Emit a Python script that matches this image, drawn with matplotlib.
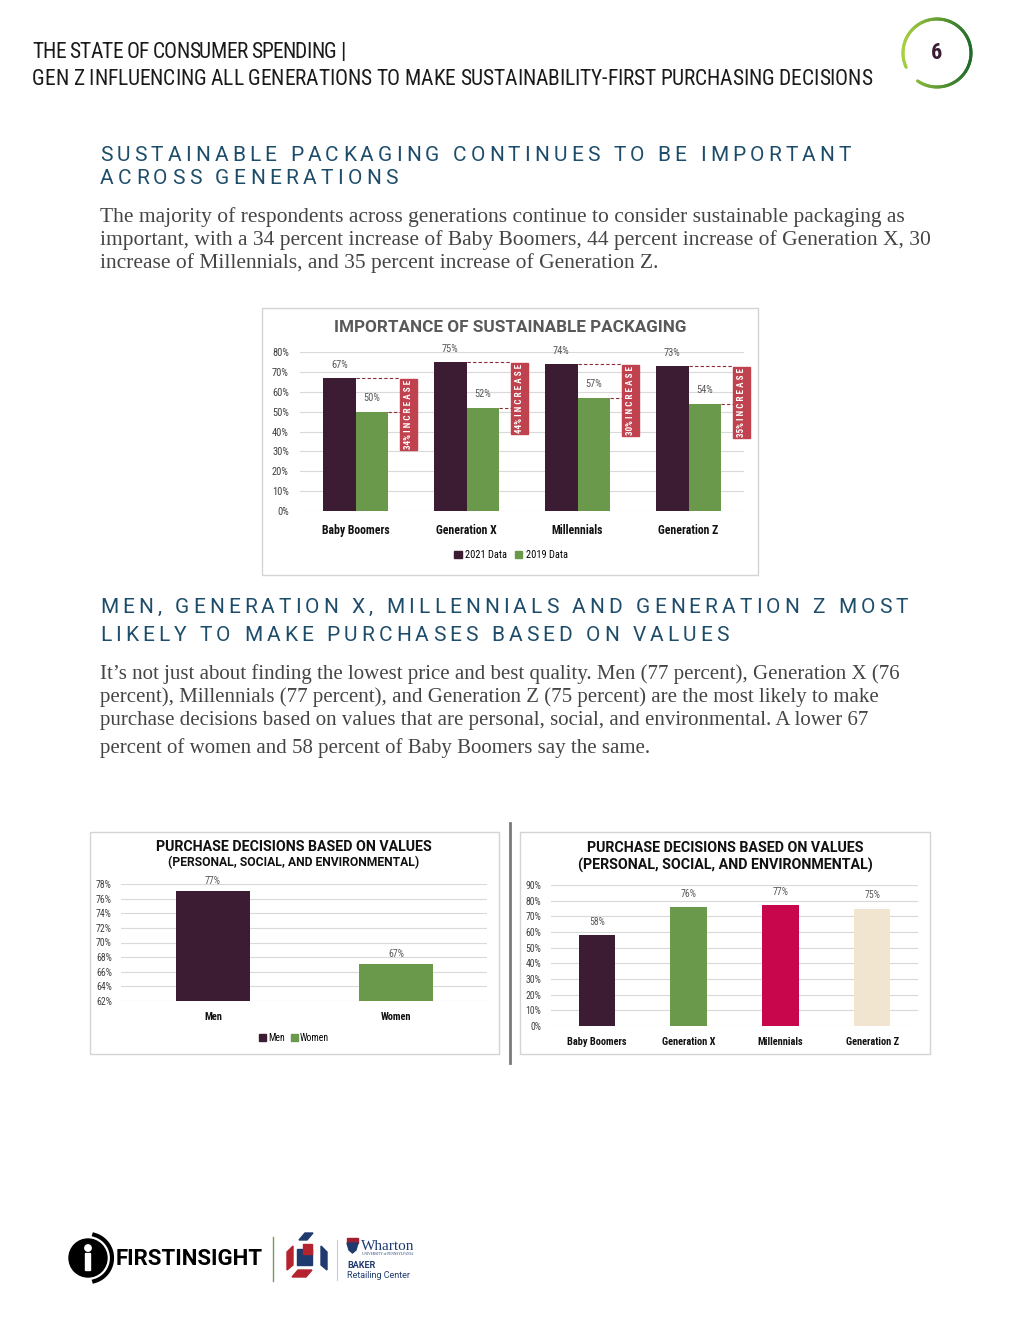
import numpy as np
import matplotlib
matplotlib.use('Agg')
import matplotlib.pyplot as plt
import matplotlib.colors as mcolors
from matplotlib import font_manager
from matplotlib.font_manager import FontProperties
from matplotlib.patches import Rectangle, Patch, Polygon, Circle

# Page size in pixels
W, H = 1020, 1320

# Data
generations = ['Baby Boomers', 'Generation X', 'Millennials', 'Generation Z']
packaging_2021 = [67, 75, 74, 73]
packaging_2019 = [50, 52, 57, 54]
packaging_increase = [34, 44, 30, 35]
gender_labels = ['Men', 'Women']
gender_values = [77, 67]
generation_values = [58, 76, 77, 75]

header_lines = ['THE STATE OF CONSUMER SPENDING |',
                'GEN Z INFLUENCING ALL GENERATIONS TO MAKE SUSTAINABILITY-FIRST PURCHASING DECISIONS']
heading1 = ['SUSTAINABLE PACKAGING CONTINUES TO BE IMPORTANT', 'ACROSS GENERATIONS']
body1 = ['The majority of respondents across generations continue to consider sustainable packaging as',
         'important, with a 34 percent increase of Baby Boomers, 44 percent increase of Generation X, 30',
         'increase of Millennials, and 35 percent increase of Generation Z.']
heading2 = ['MEN, GENERATION X, MILLENNIALS AND GENERATION Z MOST', 'LIKELY TO MAKE PURCHASES BASED ON VALUES']
body2 = ['It\u2019s not just about finding the lowest price and best quality. Men (77 percent), Generation X (76',
         'percent), Millennials (77 percent), and Generation Z (75 percent) are the most likely to make',
         'purchase decisions based on values that are personal, social, and environmental. A lower 67',
         'percent of women and 58 percent of Baby Boomers say the same.']

# Colours
PLUM = '#3b1c32'
GREEN = '#6a994b'
CRIMSON = '#c8064b'
BEIGE = '#f2e5cf'
BADGE = '#c0424e'
HEAD_BLUE = '#1e4d6b'
BODY = '#454545'
NAVY = '#1f3a6e'


def pick_font(*names):
    for name in names:
        try:
            font_manager.findfont(name, fallback_to_default=False)
            return name
        except ValueError:
            pass
    return 'DejaVu Sans'


NARROW = pick_font('Liberation Sans Narrow', 'Roboto Condensed', 'DejaVu Sans')
SANS = pick_font('Roboto', 'Liberation Sans')
SERIF = pick_font('Liberation Serif', 'DejaVu Serif')

fig = plt.figure(figsize=(W / 100, H / 100), dpi=100)
fig.patch.set_facecolor('white')

# Page layer in pixel coordinates (y downwards)
page = fig.add_axes([0, 0, 1, 1])
page.set_xlim(0, W)
page.set_ylim(H, 0)
page.axis('off')

renderer = fig.canvas.get_renderer()


def text_width(s, fp):
    return renderer.get_text_width_height_descent(s, fp, ismath=False)[0]


def char_width(ch, fp):
    return text_width('|' + ch + '|', fp) - text_width('||', fp)


def tracked(x, y, s, fp, color, target_w):
    # letter-spaced text stretched to the width on the page
    widths = [char_width(c, fp) for c in s]
    gap = (target_w - sum(widths)) / (len(s) - 1)
    cur = x
    for c, w in zip(s, widths):
        page.text(cur, y, c, fontproperties=fp, color=color, ha='left', va='baseline')
        cur += w + gap


def fitted_size(s, family, weight, target_w):
    fp = FontProperties(family=family, weight=weight, size=10)
    return 10 * target_w / text_width(s, fp)


# Header
hfp = FontProperties(family=NARROW, size=15.5)
tracked(32, 58, header_lines[0], hfp, '#1a1a1a', 313)
tracked(32, 85, header_lines[1], hfp, '#1a1a1a', 840)

# Page number circle with green gradient
cx, cy, r = 937, 53, 34
light = np.array(mcolors.to_rgb('#a8d040'))
dark = np.array(mcolors.to_rgb('#1f6b2a'))
angles = np.linspace(np.radians(235), np.radians(565), 120)
for a0, a1 in zip(angles[:-1], angles[1:]):
    t = (np.cos((a0 + a1) / 2) + 1) / 2
    col = light * (1 - t) + dark * t
    page.plot([cx + r * np.cos(a0), cx + r * np.cos(a1)],
              [cy - r * np.sin(a0), cy - r * np.sin(a1)],
              color=col, lw=2.2, solid_capstyle='round')
page.text(cx, cy, '6', fontsize=16, fontweight='bold', family=NARROW, color=PLUM,
          ha='center', va='center')

# Section 1 heading and body
sfp = FontProperties(family=SANS, size=15)
tracked(100, 161, heading1[0], sfp, HEAD_BLUE, 751)
tracked(100, 184, heading1[1], sfp, HEAD_BLUE, 298)

size1 = fitted_size(body1[0], SERIF, 'normal', 803)
for i, line in enumerate(body1):
    page.text(100, 222 + 23 * i, line, family=SERIF, fontsize=size1, color=BODY,
              ha='left', va='baseline')

# Section 2 heading and body
tracked(100, 613, heading2[0], sfp, HEAD_BLUE, 808)
tracked(100, 641, heading2[1], sfp, HEAD_BLUE, 629)

size2 = fitted_size(body2[0], SERIF, 'normal', 795)
for i, yb in enumerate([679, 702, 725, 753]):
    page.text(100, yb, body2[i], family=SERIF, fontsize=size2, color=BODY,
              ha='left', va='baseline')


def chart_axes(x0, y0, x1, y1):
    ax = fig.add_axes([x0 / W, 1 - y1 / H, (x1 - x0) / W, (y1 - y0) / H])
    ax.set_facecolor('none')
    for sp in ax.spines.values():
        sp.set_visible(False)
    ax.grid(axis='y', color='#d9d9d9', lw=0.8)
    ax.set_axisbelow(True)
    ax.tick_params(length=0)
    return ax


def title_line(x, y, s, target_w, color='#111111', weight='bold'):
    size = fitted_size(s, SANS, weight, target_w)
    page.text(x, y, s, family=SANS, fontweight=weight, fontsize=size, color=color,
              ha='center', va='center')


tick_fp = FontProperties(family=NARROW, size=7.5)
cat_fp = FontProperties(family=NARROW, size=8.5, weight='bold')
lab_fp = FontProperties(family=NARROW, size=7.5)

# ---- Chart 1: importance of sustainable packaging ----
page.add_patch(Rectangle((262, 308), 496, 267, fill=False, ec='#d4d4d4', lw=1))
title_line(510, 327, 'IMPORTANCE OF SUSTAINABLE PACKAGING', 352, color='#595959')

ax1 = chart_axes(300, 352, 744, 511)
x = np.arange(len(generations))
ax1.bar(x - 0.145, packaging_2021, 0.29, color=PLUM)
ax1.bar(x + 0.145, packaging_2019, 0.29, color=GREEN)
ax1.set_xlim(-0.5, 3.5)
ax1.set_ylim(0, 80)
ax1.set_yticks(range(0, 81, 10))
ax1.set_yticklabels([f'{v}%' for v in range(0, 81, 10)], fontproperties=tick_fp, color='#404040')
ax1.set_xticks(x)
ax1.set_xticklabels(generations, fontproperties=cat_fp, color='#111111')
ax1.tick_params(axis='y', pad=8)
ax1.tick_params(axis='x', pad=9)

for i in range(len(generations)):
    v21, v19, inc = packaging_2021[i], packaging_2019[i], packaging_increase[i]
    ax1.annotate(f'{v21}%', (i - 0.145, v21), xytext=(0, 6), textcoords='offset points',
                 ha='center', va='bottom', fontproperties=lab_fp, color='#595959')
    ax1.annotate(f'{v19}%', (i + 0.145, v19), xytext=(0, 6), textcoords='offset points',
                 ha='center', va='bottom', fontproperties=lab_fp, color='#595959')
    ax1.plot([i, i + 0.405], [v21, v21], color='#8c2b37', lw=0.8, ls=(0, (3, 2)), clip_on=False)
    ax1.plot([i + 0.29, i + 0.405], [v19, v19], color='#8c2b37', lw=0.8, ls=(0, (3, 2)), clip_on=False)
    top = v21 - 0.5
    ax1.add_patch(Rectangle((i + 0.405, top - 36), 0.145, 36, color=BADGE, clip_on=False))
    ax1.text(i + 0.4775, top - 18, f'{inc}% ' + ' '.join('INCREASE'), rotation=90,
             ha='center', va='center', color='white', family=NARROW, fontweight='bold',
             fontsize=6.5, clip_on=False)

leg_fp = FontProperties(family=NARROW, size=7.5)
fig.legend([Patch(color=PLUM), Patch(color=GREEN)], ['2021 Data', '2019 Data'],
           loc='center', bbox_to_anchor=(511 / W, 1 - 555 / H), ncol=2, frameon=False,
           handlelength=0.7, handleheight=0.7, handletextpad=0.3, columnspacing=0.8, prop=leg_fp)

# ---- Chart 2: men vs women ----
page.add_patch(Rectangle((90, 832), 409, 222, fill=False, ec='#d4d4d4', lw=1))
title_line(294, 847, 'PURCHASE DECISIONS BASED ON VALUES', 276)
title_line(294, 863, '(PERSONAL, SOCIAL, AND ENVIRONMENTAL)', 252)

small_tick = FontProperties(family=NARROW, size=7)
small_cat = FontProperties(family=NARROW, size=7.5, weight='bold')
small_lab = FontProperties(family=NARROW, size=7)

ax2 = chart_axes(121.5, 884, 487.5, 1001)
x2 = np.arange(len(gender_labels))
ax2.bar(x2, gender_values, 0.4, color=[PLUM, GREEN])
ax2.set_xlim(-0.5, 1.5)
ax2.set_ylim(62, 78)
ax2.set_yticks(range(62, 79, 2))
ax2.set_yticklabels([f'{v}%' for v in range(62, 79, 2)], fontproperties=small_tick, color='#404040')
ax2.set_xticks(x2)
ax2.set_xticklabels(gender_labels, fontproperties=small_cat, color='#111111')
ax2.tick_params(axis='y', pad=7)
ax2.tick_params(axis='x', pad=8)
for i, v in enumerate(gender_values):
    ax2.annotate(f'{v}%', (i, v), xytext=(0, 4), textcoords='offset points', ha='center',
                 va='bottom', fontproperties=small_lab, color='#595959', annotation_clip=False)

fig.legend([Patch(color=PLUM), Patch(color=GREEN)], gender_labels,
           loc='center', bbox_to_anchor=(294 / W, 1 - 1038 / H), ncol=2, frameon=False,
           handlelength=0.7, handleheight=0.7, handletextpad=0.2, columnspacing=0.6,
           prop=FontProperties(family=NARROW, size=7))

# ---- Chart 3: by generation ----
page.add_patch(Rectangle((520, 832), 410, 222, fill=False, ec='#d4d4d4', lw=1))
title_line(725, 848, 'PURCHASE DECISIONS BASED ON VALUES', 278)
title_line(725, 865, '(PERSONAL, SOCIAL, AND ENVIRONMENTAL)', 296)

ax3 = chart_axes(551, 885, 918, 1026)
x3 = np.arange(len(generations))
ax3.bar(x3, generation_values, 0.4, color=[PLUM, GREEN, CRIMSON, BEIGE])
ax3.set_xlim(-0.5, 3.5)
ax3.set_ylim(0, 90)
ax3.set_yticks(range(0, 91, 10))
ax3.set_yticklabels([f'{v}%' for v in range(0, 91, 10)], fontproperties=small_tick, color='#404040')
ax3.set_xticks(x3)
ax3.set_xticklabels(generations, fontproperties=small_cat, color='#111111')
ax3.tick_params(axis='y', pad=7)
ax3.tick_params(axis='x', pad=8)
for i, v in enumerate(generation_values):
    ax3.annotate(f'{v}%', (i, v), xytext=(0, 6), textcoords='offset points', ha='center',
                 va='bottom', fontproperties=small_lab, color='#595959', annotation_clip=False)

# separator between the two lower charts
page.plot([510, 510], [823, 1063], color='#7a7a7a', lw=2)

# ---- Footer logos ----
page.add_patch(Circle((88, 1258), 19, color='black'))
page.add_patch(Circle((88, 1248), 3.2, color='white'))
page.add_patch(Rectangle((85.5, 1253), 5, 17, color='white'))
arc = np.radians(np.linspace(-75, 75, 40))
page.plot(88 + 24 * np.cos(arc), 1258 - 24 * np.sin(arc), color='black', lw=3)
fi_size = fitted_size('FIRSTINSIGHT', SANS, 'bold', 146)
page.text(116, 1259, 'FIRSTINSIGHT', family=SANS, fontweight='bold', fontsize=fi_size,
          color='black', ha='left', va='center')
page.plot([273, 273], [1237, 1281], color='#7a9a5a', lw=1)

# red / blue mark
page.add_patch(Polygon([(299, 1240), (305, 1233), (313, 1233), (307, 1240)], color=NAVY))
page.add_patch(Polygon([(287, 1252), (293, 1246), (293, 1265), (287, 1270)], color='#b5232f'))
page.add_patch(Rectangle((297, 1249), 15, 16, color=NAVY))
page.add_patch(Rectangle((303, 1244), 9, 10, color='#b5232f'))
page.add_patch(Polygon([(321, 1246), (327, 1252), (327, 1270), (321, 1265)], color=NAVY))
page.add_patch(Polygon([(298, 1270), (312, 1270), (306, 1277), (292, 1277)], color='#b5232f'))
page.plot([337, 337], [1240, 1280], color='#cccccc', lw=0.8)

# Wharton / Baker
page.add_patch(Rectangle((347, 1238), 11, 5, color='#a02030'))
page.add_patch(Polygon([(347, 1243), (358, 1243), (356, 1250), (352.5, 1253), (349, 1250)], color=NAVY))
page.text(361, 1246, 'Wharton', family=SERIF, fontsize=11, color=NAVY, ha='left', va='center')
page.text(362, 1254, 'UNIVERSITY of PENNSYLVANIA', family=SERIF, fontsize=2.5, color=NAVY,
          ha='left', va='center')
page.text(347, 1266, 'BAKER', family=SANS, fontweight='bold', fontsize=6.5, color=NAVY,
          ha='left', va='center')
page.text(347, 1276, 'Retailing Center', family=SANS, fontsize=6.5, color=NAVY,
          ha='left', va='center')

fig.savefig('out.png', dpi=100)
